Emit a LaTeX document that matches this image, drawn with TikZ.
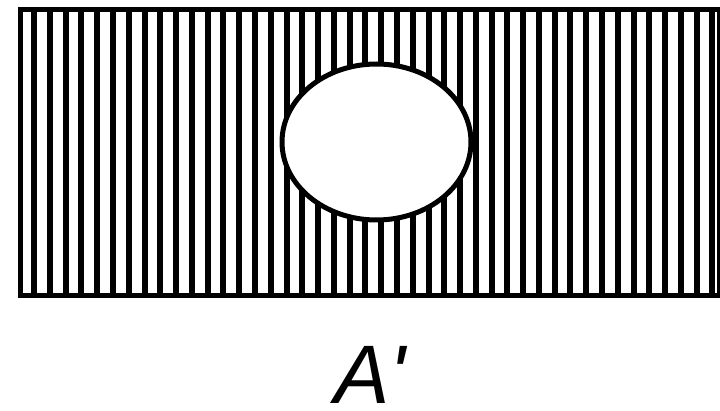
\documentclass[tikz,border=0pt]{standalone}
\usetikzlibrary{shapes.geometric}
\usepackage{fontspec}
\newfontfamily\lblfont{Liberation Sans}[Ligatures=TeXOff]
\begin{document}
\begin{tikzpicture}[x=1pt,y=-1pt,
  stripe/.style={line width=6pt},
  outline/.style={line width=5pt, draw=black}]
\useasboundingbox (0,0) rectangle (720,411);
\coordinate (tl) at (20,10);
\coordinate (br) at (719,295.5);
\begin{scope}
  \clip (tl) rectangle (br);
  \foreach \i in {0,...,44}
    \draw[stripe] ({18.35+15.775*\i},0) -- ++(0,300);
\end{scope}
\node[outline, fill=white, ellipse, minimum width=189pt, minimum height=156pt, inner sep=0pt,
  outer sep=0pt] (hole) at (376.5,142) {};
\draw[outline] (tl) rectangle (br);
\node[font=\lblfont\fontsize{83}{83}\selectfont\itshape, anchor=base, inner sep=0pt] (lbl) at (370,403) {A'};
\end{tikzpicture}
\end{document}
